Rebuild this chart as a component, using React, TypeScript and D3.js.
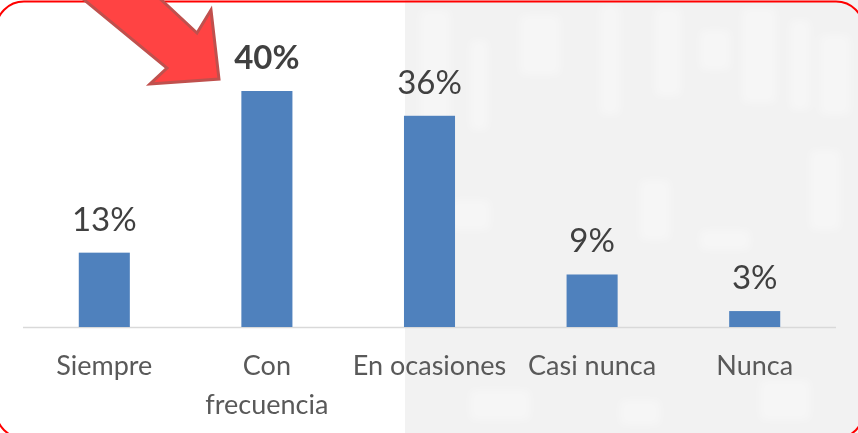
import React from "react";
import * as d3 from "d3";

const categories: string[][] = [["Siempre"], ["Con", "frecuencia"], ["En ocasiones"], ["Casi nunca"], ["Nunca"]];
const values: number[] = [12.6, 40, 35.8, 8.9, 2.7];
const highlighted: boolean[] = [false, true, false, false, false];

const W = 858;
const H = 433;

// faint background texture blocks on the right half (decorative)
const texture: [number, number, number, number][] = [
  [420, 10, 30, 120], [470, 40, 18, 90], [520, 15, 40, 60], [600, 5, 20, 110],
  [655, 8, 26, 88], [700, 30, 30, 40], [742, 8, 34, 95], [790, 20, 20, 90],
  [820, 35, 30, 80], [450, 200, 40, 30], [640, 180, 30, 60], [700, 230, 50, 20],
  [810, 150, 30, 80], [470, 390, 60, 30], [620, 400, 40, 25], [760, 380, 50, 40],
];

export default function App() {
  const keys = categories.map((c) => c.join(" "));
  const x = d3.scaleBand<string>().domain(keys).range([23, 836]).paddingInner(0.686).paddingOuter(0.343);
  const y = d3.scaleLinear().domain([0, 45]).range([327, 327 - 45 * 5.9]);
  const font = "Lato, 'Open Sans', sans-serif";

  return (
    <svg width={W} height={H} style={{ position: "absolute", left: 0, top: 0, display: "block" }}>
      <defs>
        <filter id="blur" x="-20%" y="-20%" width="140%" height="140%">
          <feGaussianBlur stdDeviation="4" />
        </filter>
      </defs>
      <rect x={0} y={0} width={W} height={H} fill="#ffffff" />
      <rect x={405} y={0} width={W - 405} height={H} fill="#f2f2f2" />
      <g filter="url(#blur)">
        {texture.map((t, i) => (
          <rect key={i} x={t[0]} y={t[1]} width={t[2]} height={t[3]} fill="#ffffff" opacity={0.35} />
        ))}
      </g>
      <line x1={23} x2={836} y1={327.5} y2={327.5} stroke="#d9d9d9" strokeWidth={1.5} />
      {values.map((v, i) => {
        const bx = x(keys[i])!;
        return (
          <rect key={"b" + i} x={bx} y={y(v)} width={x.bandwidth()} height={y(0) - y(v)} fill="#4f81bd" />
        );
      })}
      {values.map((v, i) => {
        const cx = x(keys[i])! + x.bandwidth() / 2;
        return (
          <text
            key={"v" + i}
            x={cx}
            y={y(v) - 22}
            textAnchor="middle"
            fontFamily={font}
            fontSize={33}
            fontWeight={highlighted[i] ? 700 : 400}
            fill="#404040"
          >
            {Math.round(v) + "%"}
          </text>
        );
      })}
      {categories.map((lines, i) => {
        const cx = x(keys[i])! + x.bandwidth() / 2;
        return (
          <text key={"c" + i} textAnchor="middle" fontFamily={font} fontSize={27} fill="#595959">
            {lines.map((l, j) => (
              <tspan key={j} x={cx} y={375 + j * 39}>
                {l}
              </tspan>
            ))}
          </text>
        );
      })}
      <rect x={-4} y={1.5} width={868} height={437} rx={28} ry={28} fill="none" stroke="#ff0000" strokeWidth={2} />
      <polygon
        points="60,-20 140,-20 197,33 211,10 219,79 150,84 167,68"
        fill="#ff4343"
        stroke="#c0504d"
        strokeWidth={3}
        strokeLinejoin="miter"
      />
    </svg>
  );
}
